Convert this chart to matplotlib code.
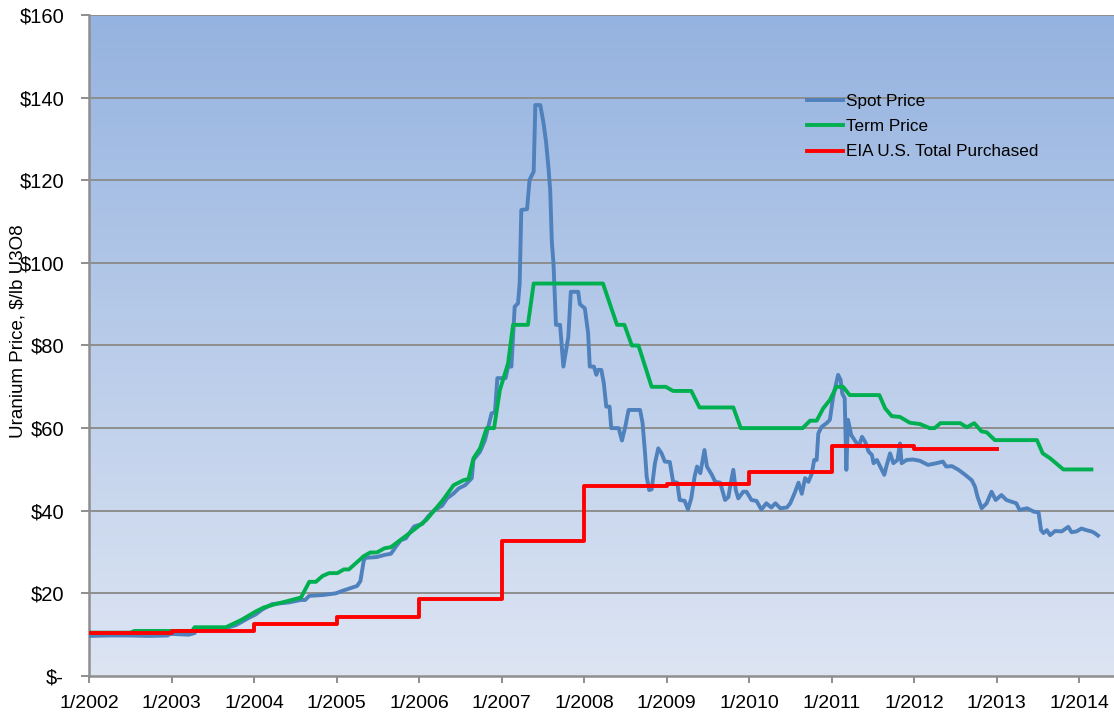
import numpy as np
import matplotlib
matplotlib.use("Agg")
import matplotlib.pyplot as plt
from matplotlib.colors import LinearSegmentedColormap

plt.rcParams['font.family'] = ['Liberation Sans', 'DejaVu Sans']

# ---- data (decimal year, $/lb U3O8) ----
spot_t = [2002.00, 2002.24, 2002.48, 2002.73, 2002.95, 2002.99, 2003.21, 2003.28, 2003.31, 2003.62,
          2003.78, 2003.94, 2004.02, 2004.10, 2004.22, 2004.42, 2004.57, 2004.62, 2004.67, 2004.83,
          2004.99, 2005.07, 2005.19, 2005.25, 2005.29, 2005.33, 2005.35, 2005.49, 2005.58, 2005.66,
          2005.72, 2005.78, 2005.84, 2005.94, 2006.04, 2006.11, 2006.19, 2006.28, 2006.34, 2006.42,
          2006.48, 2006.56, 2006.64, 2006.66, 2006.74, 2006.80, 2006.84, 2006.88, 2006.92, 2006.95,
          2007.05, 2007.08, 2007.12, 2007.16, 2007.20, 2007.22, 2007.24, 2007.31, 2007.34, 2007.39,
          2007.41, 2007.47, 2007.51, 2007.54, 2007.57, 2007.59, 2007.61, 2007.63, 2007.66, 2007.71,
          2007.75, 2007.81, 2007.84, 2007.93, 2007.95, 2008.01, 2008.05, 2008.07, 2008.12, 2008.15,
          2008.17, 2008.21, 2008.24, 2008.27, 2008.31, 2008.33, 2008.42, 2008.46, 2008.50, 2008.54,
          2008.68, 2008.71, 2008.74, 2008.76, 2008.79, 2008.82, 2008.86, 2008.90, 2008.94, 2008.98,
          2009.04, 2009.08, 2009.13, 2009.16, 2009.22, 2009.26, 2009.30, 2009.34, 2009.37, 2009.41,
          2009.46, 2009.49, 2009.55, 2009.59, 2009.65, 2009.71, 2009.75, 2009.78, 2009.81, 2009.84,
          2009.87, 2009.93, 2009.97, 2010.03, 2010.09, 2010.15, 2010.21, 2010.27, 2010.32, 2010.38,
          2010.46, 2010.50, 2010.56, 2010.60, 2010.64, 2010.68, 2010.72, 2010.76, 2010.79, 2010.82,
          2010.84, 2010.88, 2010.94, 2010.98, 2011.02, 2011.08, 2011.11, 2011.13, 2011.16, 2011.18,
          2011.20, 2011.24, 2011.28, 2011.33, 2011.37, 2011.41, 2011.45, 2011.49, 2011.51, 2011.55,
          2011.59, 2011.64, 2011.67, 2011.71, 2011.75, 2011.80, 2011.83, 2011.85, 2011.91, 2011.99,
          2012.07, 2012.17, 2012.27, 2012.35, 2012.39, 2012.46, 2012.54, 2012.62, 2012.70, 2012.74,
          2012.77, 2012.82, 2012.88, 2012.94, 2012.99, 2013.06, 2013.12, 2013.18, 2013.24, 2013.28,
          2013.37, 2013.45, 2013.51, 2013.54, 2013.57, 2013.61, 2013.65, 2013.71, 2013.79, 2013.87,
          2013.91, 2013.97, 2014.03, 2014.09, 2014.15, 2014.19, 2014.23]
spot_v = [9.7, 9.8, 9.8, 9.7, 9.8, 10.2, 10.0, 10.4, 11.4, 11.4,
          12.3, 14.1, 14.9, 16.1, 17.4, 17.8, 18.4, 18.4, 19.4, 19.6,
          20.0, 20.6, 21.4, 21.8, 23.0, 27.9, 28.6, 28.8, 29.3, 29.6,
          31.3, 32.9, 33.3, 36.2, 36.8, 38.6, 40.2, 41.2, 43.0, 44.2,
          45.4, 46.2, 47.9, 52.3, 54.3, 57.1, 60.3, 63.6, 63.8, 72.1,
          72.1, 74.9, 74.9, 89.4, 90.2, 95.0, 112.8, 113.0, 120.1, 122.1,
          138.2, 138.2, 133.8, 129.3, 122.9, 117.6, 105.1, 99.9, 85.0, 85.0,
          74.9, 82.1, 93.0, 93.0, 90.0, 89.0, 83.0, 74.9, 74.9, 72.9,
          74.1, 74.1, 70.9, 65.2, 65.2, 60.0, 60.0, 57.0, 60.3, 64.4,
          64.4, 61.2, 53.9, 48.2, 45.0, 45.2, 51.5, 55.1, 53.9, 51.9,
          51.8, 47.0, 46.8, 42.6, 42.4, 40.3, 43.0, 48.2, 50.7, 49.1,
          54.7, 50.7, 48.7, 47.0, 46.8, 42.6, 43.3, 46.8, 49.9, 45.0,
          43.0, 44.6, 44.6, 42.6, 42.4, 40.3, 41.8, 40.8, 41.8, 40.6,
          40.8, 41.8, 44.6, 46.8, 44.1, 47.9, 47.0, 48.9, 52.3, 52.3,
          58.7, 60.3, 61.2, 62.0, 67.6, 72.9, 71.7, 68.4, 67.2, 49.9,
          62.0, 58.3, 57.1, 55.6, 57.9, 56.6, 54.3, 53.5, 51.5, 52.3,
          50.7, 48.7, 51.1, 53.9, 51.5, 52.3, 56.3, 51.5, 52.3, 52.4,
          52.1, 51.1, 51.5, 51.9, 50.7, 50.8, 49.9, 48.7, 47.4, 45.8,
          43.4, 40.6, 41.8, 44.6, 42.6, 43.8, 42.6, 42.2, 41.8, 40.2,
          40.6, 39.8, 39.6, 35.3, 34.6, 35.3, 34.1, 35.1, 35.0, 36.1,
          34.8, 35.0, 35.7, 35.3, 35.0, 34.6, 34.0]

term_t = [2002.00, 2002.50, 2002.55, 2003.25, 2003.28, 2003.66, 2003.85, 2004.02, 2004.12, 2004.26,
          2004.38, 2004.57, 2004.67, 2004.75, 2004.83, 2004.91, 2005.01, 2005.09, 2005.15, 2005.33,
          2005.41, 2005.49, 2005.58, 2005.66, 2005.76, 2005.92, 2006.09, 2006.29, 2006.42, 2006.54,
          2006.60, 2006.66, 2006.74, 2006.82, 2006.91, 2006.98, 2007.08, 2007.14, 2007.32, 2007.39,
          2008.23, 2008.40, 2008.49, 2008.58, 2008.66, 2008.82, 2008.99, 2009.08, 2009.30, 2009.40,
          2009.81, 2009.90, 2010.65, 2010.74, 2010.82, 2010.90, 2010.98, 2011.06, 2011.14, 2011.22,
          2011.58, 2011.65, 2011.73, 2011.83, 2011.95, 2012.07, 2012.19, 2012.25, 2012.32, 2012.56,
          2012.64, 2012.73, 2012.82, 2012.88, 2012.98, 2013.49, 2013.56, 2013.65, 2013.81, 2014.15]
term_v = [10.5, 10.5, 10.9, 10.9, 11.8, 11.8, 13.6, 15.6, 16.6, 17.4,
          18.0, 19.0, 22.8, 22.8, 24.2, 24.9, 24.9, 25.8, 25.8, 29.0,
          29.9, 29.9, 30.9, 31.2, 32.7, 35.1, 37.8, 42.6, 46.2, 47.4,
          47.7, 52.7, 55.1, 60.0, 60.0, 69.2, 75.7, 85.0, 85.0, 95.0,
          95.0, 85.0, 85.0, 80.0, 80.0, 70.0, 70.0, 69.0, 69.0, 65.0,
          65.0, 60.0, 60.0, 61.8, 61.8, 64.8, 66.8, 70.0, 70.0, 68.0,
          68.0, 64.8, 62.9, 62.7, 61.3, 61.0, 60.0, 60.0, 61.2, 61.2,
          60.2, 61.2, 59.2, 59.0, 57.1, 57.1, 53.9, 52.7, 50.0, 50.0]

eia_years = [2002, 2003, 2004, 2005, 2006, 2007, 2008, 2009, 2010, 2011, 2012, 2013]
eia_v = [10.36, 10.81, 12.61, 14.36, 18.61, 32.78, 45.88, 46.45, 49.29, 55.64, 54.99, 54.99]

x_ticks = list(range(2002, 2015))
x_labels = [f"1/{y}" for y in x_ticks]
y_ticks = list(range(0, 161, 20))
y_labels = ["$-"] + [f"${v}" for v in y_ticks[1:]]

# ---- figure ----
W, H = 1114, 715
fig = plt.figure(figsize=(W / 100, H / 100), dpi=100)
left, right, top, bottom = 89, 1114, 15, 676
ax = fig.add_axes([left / W, 1 - bottom / H, (right - left) / W, (bottom - top) / H])

xmin, xmax = 2002.0, 2002.0 + (right - left) / 82.5
ymin, ymax = 0, 160

# gradient background
cmap = LinearSegmentedColormap.from_list("bg", ["#DDE5F3", "#95B3E0"])
grad = np.linspace(0, 1, 256).reshape(-1, 1)
ax.imshow(grad, cmap=cmap, extent=[xmin, xmax, ymin, ymax], origin="lower",
          aspect="auto", zorder=0, interpolation="bicubic")

for yv in y_ticks[1:]:
    ax.axhline(yv, color="#8E8E8E", lw=1.4, zorder=1)

ax.plot(spot_t, spot_v, color="#4F81BD", lw=2.8, label="Spot Price", zorder=3,
        solid_joinstyle="round")
ax.plot(term_t, term_v, color="#00B050", lw=2.8, label="Term Price", zorder=4)
ax.step(eia_years, eia_v, where="post", color="#FF0000", lw=2.8,
        label="EIA U.S. Total Purchased", zorder=5)

ax.set_xlim(xmin, xmax)
ax.set_ylim(ymin, ymax)
ax.set_xticks(x_ticks)
ax.set_xticklabels(x_labels, fontsize=14)
ax.set_yticks(y_ticks)
ax.set_yticklabels(y_labels, fontsize=14.5)
ax.tick_params(axis="x", length=5, width=1.4, color="#8E8E8E", pad=9)
ax.tick_params(axis="y", length=6, width=1.4, color="#8E8E8E", pad=12)

for s in ["top", "right"]:
    ax.spines[s].set_visible(False)
for s in ["left", "bottom"]:
    ax.spines[s].set_color("#8E8E8E")
    ax.spines[s].set_linewidth(1.8)

fig.text(18 / W, 1 - 331 / H, "Uranium Price, $/lb U3O8", rotation=90,
         ha="center", va="center", fontsize=13.5)

leg = ax.legend(loc="upper left", bbox_to_anchor=(807 / W, 1 - 94 / H),
                bbox_transform=fig.transFigure, frameon=False, fontsize=12.3,
                handlelength=2.1, handletextpad=0.2, labelspacing=0.6,
                borderaxespad=0, borderpad=0)

fig.savefig("out.png", dpi=100)
